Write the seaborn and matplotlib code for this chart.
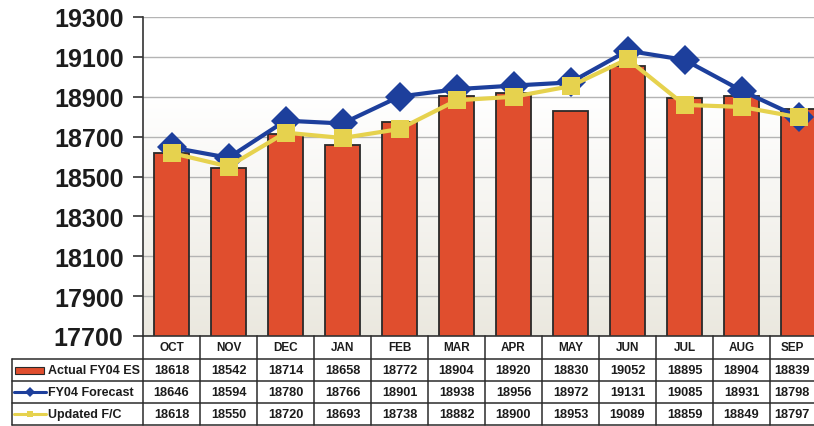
import numpy as np
import pandas as pd
import matplotlib
matplotlib.use("Agg")
import matplotlib.pyplot as plt
import matplotlib.transforms as mtransforms
from matplotlib.lines import Line2D
from matplotlib.patches import Rectangle
import seaborn as sns

# Monthly figures
months = ["OCT", "NOV", "DEC", "JAN", "FEB", "MAR", "APR", "MAY", "JUN", "JUL", "AUG", "SEP"]
actual_es = [18618, 18542, 18714, 18658, 18772, 18904, 18920, 18830, 19052, 18895, 18904, 18839]
fy04_forecast = [18646, 18594, 18780, 18766, 18901, 18938, 18956, 18972, 19131, 19085, 18931, 18798]
updated_fc = [18618, 18550, 18720, 18693, 18738, 18882, 18900, 18953, 19089, 18859, 18849, 18797]
series_names = ["Actual FY04 ES", "FY04 Forecast", "Updated F/C"]
y_ticks = [17700, 17900, 18100, 18300, 18500, 18700, 18900, 19100, 19300]

BAR_RED = "#e04e2e"
LINE_BLUE = "#1d3f9c"
LINE_YELLOW = "#e6d24e"
INK = "#1c1c1c"

sns.set_theme(style="white")
plt.rcParams["font.family"] = ["Liberation Sans", "DejaVu Sans"]

W, H = 814, 427
fig = plt.figure(figsize=(W / 100, H / 100), dpi=100)
fig.patch.set_facecolor("white")

# plot area in pixels: left 143, top 18, bottom 337, 57 px per month
left_px, top_px, bot_px, col_px = 143, 18, 337, 57
ax = fig.add_axes([left_px / W, (H - bot_px) / H, 12 * col_px / W, (bot_px - top_px) / H])

df = pd.DataFrame({"month": months, "actual": actual_es,
                   "forecast": fy04_forecast, "updated": updated_fc})

# soft background shading toward the bottom of the plot area
grad = np.linspace(0, 1, 256).reshape(-1, 1)
shade = np.clip((0.75 - grad) / 0.75, 0, 1)
top_c = np.array([1.0, 1.0, 1.0])
bot_c = np.array([0.92, 0.91, 0.875])
img = top_c * (1 - shade[..., None]) + bot_c * shade[..., None]
ax.imshow(img, extent=[0, 1, 0, 1], transform=ax.transAxes, aspect="auto",
          origin="lower", zorder=0)

sns.barplot(data=df, x="month", y="actual", color=BAR_RED, saturation=1,
            width=0.62, edgecolor="#2a2a2a", linewidth=1.3, ax=ax, zorder=2)

sns.pointplot(data=df, x="month", y="forecast", color=LINE_BLUE, marker="D",
              markersize=15, linewidth=3, markeredgewidth=0, ax=ax, zorder=3)
sns.pointplot(data=df, x="month", y="updated", color=LINE_YELLOW, marker="s",
              markersize=13, linewidth=3, markeredgewidth=0, ax=ax, zorder=4)

ax.set_ylim(17700, 19300)
ax.set_xlim(-0.5, 11.5)
ax.set_yticks(y_ticks)
ax.set_yticklabels([str(v) for v in y_ticks], fontsize=18, fontweight="bold", color=INK)
ax.set_xticks([])
ax.set_xlabel("")
ax.set_ylabel("")
ax.yaxis.grid(True, color="#b4b4b4", linewidth=1)
ax.set_axisbelow(True)
ax.tick_params(axis="y", which="both", left=True, length=7, width=1.2,
               color="#333333", pad=7)
for side in ("top", "right"):
    ax.spines[side].set_visible(False)
for side in ("left", "bottom"):
    ax.spines[side].set_color("#333333")
    ax.spines[side].set_linewidth(1.2)

# ---- data table under the plot ----
tr = mtransforms.blended_transform_factory(ax.transData, fig.transFigure)


def px_x(px):
    return -0.5 + (px - left_px) / col_px


def px_y(py):
    return 1 - py / H


# text centre of each column; the last column runs past the figure edge,
# so its text is centred on the part that is visible
col_centres = [float(i) for i in range(len(months))]
col_centres[-1] = min(col_centres[-1], (px_x(W) + (len(months) - 1.5)) / 2)

header_top, row_edges = 337, [360, 382, 404, 426]
x_label_left = px_x(12)
line_kw = dict(color="#2b2b2b", linewidth=1.1, transform=tr, clip_on=False)

# horizontal rules
for py in row_edges:
    fig.add_artist(Line2D([x_label_left, 11.5], [px_y(py)] * 2, **line_kw))
# vertical rules between month columns
for k in range(13):
    fig.add_artist(Line2D([k - 0.5] * 2, [px_y(header_top), px_y(row_edges[-1])], **line_kw))
fig.add_artist(Line2D([x_label_left] * 2, [px_y(row_edges[0]), px_y(row_edges[-1])], **line_kw))

# month header
for xc, m in zip(col_centres, months):
    fig.text(xc, px_y((header_top + row_edges[0]) / 2), m, transform=tr, ha="center",
             va="center", fontsize=8.5, fontweight="bold", color=INK)

# values
rows = [actual_es, fy04_forecast, updated_fc]
for r, vals in enumerate(rows):
    yc = px_y((row_edges[r] + row_edges[r + 1]) / 2)
    for xc, v in zip(col_centres, vals):
        fig.text(xc, yc, str(v), transform=tr, ha="center", va="center",
                 fontsize=9.2, fontweight="bold", color=INK)
    fig.text(px_x(48), yc, series_names[r], transform=tr, ha="left", va="center",
             fontsize=9, fontweight="bold", color=INK)

# legend keys in the label column
yc0 = px_y((row_edges[0] + row_edges[1]) / 2)
fig.add_artist(Rectangle((px_x(15), yc0 - 3.5 / H), px_x(44) - px_x(15), 7 / H,
                         facecolor=BAR_RED, edgecolor="#2a2a2a", linewidth=0.8,
                         transform=tr, clip_on=False))
for r, (col, mk) in enumerate([(LINE_BLUE, "D"), (LINE_YELLOW, "s")], start=1):
    yc = px_y((row_edges[r] + row_edges[r + 1]) / 2)
    fig.add_artist(Line2D([px_x(14), px_x(46)], [yc, yc], color=col, linewidth=2.2,
                          transform=tr, clip_on=False))
    fig.add_artist(Line2D([px_x(30)], [yc], color=col, marker=mk, markersize=5,
                          markeredgewidth=0, transform=tr, clip_on=False))

fig.savefig("out.png", dpi=100, facecolor="white")
